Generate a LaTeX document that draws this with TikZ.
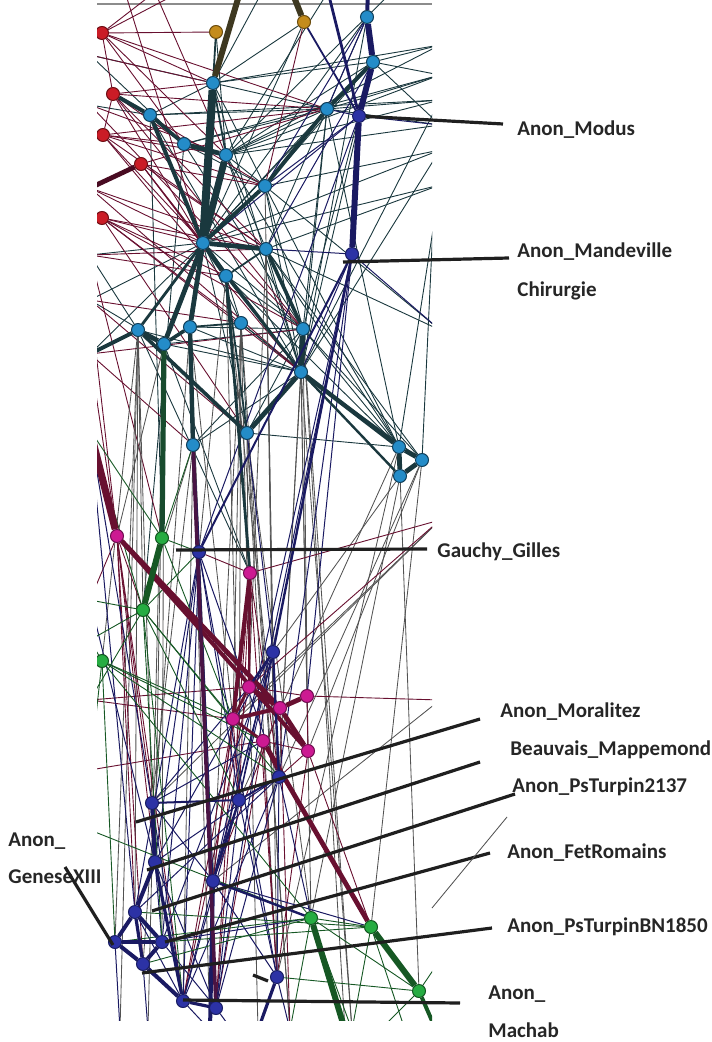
\documentclass[tikz,border=0pt]{standalone}
\usepackage{fontspec}
\setmainfont{Carlito}
\usetikzlibrary{positioning}
\usetikzlibrary{backgrounds}

\definecolor{nodered}{RGB}{202,28,38}
\definecolor{nodeorange}{RGB}{196,140,28}
\definecolor{nodecyan}{RGB}{36,140,200}
\definecolor{nodeblue}{RGB}{44,50,165}
\definecolor{nodemag}{RGB}{204,26,146}
\definecolor{nodegreen}{RGB}{38,172,66}
\definecolor{edgeteal}{RGB}{26,56,62}
\definecolor{edgenavy}{RGB}{26,26,98}
\definecolor{edgemaroon}{RGB}{104,16,48}
\definecolor{edgegreen}{RGB}{22,88,36}
\definecolor{edgeolive}{RGB}{62,56,32}

\begin{document}
\begin{tikzpicture}[x=0.5pt, y=-0.5pt,
                rednode/.style={circle, draw=nodered!55!black, fill=nodered, minimum size=6.5pt, inner sep=0pt, line width=0.5pt},
                orangenode/.style={circle, draw=nodeorange!55!black, fill=nodeorange, minimum size=6.5pt, inner sep=0pt, line width=0.5pt},
                cyannode/.style={circle, draw=nodecyan!45!black, fill=nodecyan, minimum size=6.5pt, inner sep=0pt, line width=0.5pt},
                bluenode/.style={circle, draw=nodeblue!60!black, fill=nodeblue, minimum size=6.5pt, inner sep=0pt, line width=0.5pt},
                magnode/.style={circle, draw=nodemag!55!black, fill=nodemag, minimum size=6.5pt, inner sep=0pt, line width=0.5pt},
                greennode/.style={circle, draw=nodegreen!50!black, fill=nodegreen, minimum size=6.5pt, inner sep=0pt, line width=0.5pt},
                tealline/.style={draw=edgeteal, line width=0.45pt},
                maroonline/.style={draw=edgemaroon, line width=0.45pt},
                navyline/.style={draw=edgenavy, line width=0.5pt},
                greenline/.style={draw=edgegreen, line width=0.45pt},
                grayline/.style={draw=black!68, line width=0.42pt},
                leader/.style={draw=black!88, line width=1.6pt},
                labeltext/.style={font=\bfseries\fontsize{10.5}{12}\selectfont, text=black!85, anchor=west, inner sep=0pt},
            ]
            \useasboundingbox (0,0) rectangle (711,1042);

            % Nodes
            \begin{scope}
            \clip (97,0) rectangle (432,1020);
            \node[rednode]    (r1) at (102,33)  {};
            \node[rednode]    (r2) at (113,94)  {};
            \node[rednode]    (r3) at (103,135) {};
            \node[rednode]    (r4) at (141,164) {};
            \node[rednode]    (r5) at (102,218) {};

            \node[orangenode] (o1) at (216,32)  {};
            \node[orangenode] (o2) at (304,22)  {};

            \node[cyannode]   (c1)  at (367,17)  {};
            \node[cyannode]   (c2)  at (373,62)  {};
            \node[cyannode]   (c3)  at (213,83)  {};
            \node[cyannode]   (c4)  at (150,115) {};
            \node[cyannode]   (c5)  at (327,109) {};
            \node[cyannode]   (c6)  at (184,144) {};
            \node[cyannode]   (c7)  at (226,155) {};
            \node[cyannode]   (c8)  at (265,186) {};
            \node[cyannode]   (c9)  at (203,243) {};
            \node[cyannode]   (c10) at (266,249) {};
            \node[cyannode]   (c11) at (226,276) {};
            \node[cyannode]   (c12) at (138,330) {};
            \node[cyannode]   (c13) at (164,344) {};
            \node[cyannode]   (c14) at (190,327) {};
            \node[cyannode]   (c15) at (241,323) {};
            \node[cyannode]   (c16) at (303,329) {};
            \node[cyannode]   (c17) at (301,372) {};
            \node[cyannode]   (c18) at (247,433) {};
            \node[cyannode]   (c19) at (193,445) {};
            \node[cyannode]   (c20) at (399,447) {};
            \node[cyannode]   (c21) at (422,460) {};
            \node[cyannode]   (c22) at (400,476) {};

            \node[bluenode]   (modus)      at (359,116) {};
            \node[bluenode]   (mandeville) at (352,254) {};
            \node[bluenode]   (gauchy)     at (199,552) {};
            \node[bluenode]   (b2)  at (273,652)  {};
            \node[bluenode]   (b3)  at (279,777)  {};
            \node[bluenode]   (b4)  at (239,800)  {};
            \node[bluenode]   (b5)  at (152,803)  {};
            \node[bluenode]   (b6)  at (155,862)  {};
            \node[bluenode]   (b7)  at (213,881)  {};
            \node[bluenode]   (b8)  at (135,912)  {};
            \node[bluenode]   (b9)  at (115,942)  {};
            \node[bluenode]   (b10) at (162,942)  {};
            \node[bluenode]   (b11) at (143,964)  {};
            \node[bluenode]   (b12) at (277,977)  {};
            \node[bluenode]   (b13) at (183,1001) {};
            \node[bluenode]   (b14) at (216,1008) {};

            \node[magnode]    (m1) at (117,536) {};
            \node[magnode]    (m2) at (250,573) {};
            \node[magnode]    (m3) at (249,687) {};
            \node[magnode]    (m4) at (307,696) {};
            \node[magnode]    (m5) at (280,708) {};
            \node[magnode]    (m6) at (233,719) {};
            \node[magnode]    (m7) at (263,741) {};
            \node[magnode]    (m8) at (308,751) {};

            \node[greennode]  (g1) at (162,538) {};
            \node[greennode]  (g2) at (143,610) {};
            \node[greennode]  (g3) at (102,661) {};
            \node[greennode]  (g4) at (311,918) {};
            \node[greennode]  (g5) at (371,927) {};
            \node[greennode]  (g6) at (419,991) {};
            \end{scope}

            % Edge ends outside the panel
            \coordinate (tA) at (125,-8);  \coordinate (tB) at (155,-8);  \coordinate (tC) at (180,-8);
            \coordinate (tD) at (240,-8);  \coordinate (tE) at (262,-8);  \coordinate (tF) at (292,-8);
            \coordinate (tG) at (328,-8);  \coordinate (tH) at (368,-8);  \coordinate (tI) at (392,-8);
            \coordinate (tJ) at (418,-8);
            \coordinate (lA) at (90,55);   \coordinate (lB) at (90,105);  \coordinate (lC) at (90,188);
            \coordinate (lD) at (90,255);  \coordinate (lE) at (90,300);  \coordinate (lF) at (90,354);
            \coordinate (lG) at (90,430);  \coordinate (lH) at (90,600);  \coordinate (lI) at (90,640);
            \coordinate (lJ) at (90,700);  \coordinate (lK) at (90,770);  \coordinate (lL) at (90,830);
            \coordinate (rA) at (440,45);  \coordinate (rB) at (440,75);  \coordinate (rC) at (440,100);
            \coordinate (rD) at (440,125); \coordinate (rE) at (440,150); \coordinate (rF) at (440,185);
            \coordinate (rG) at (440,330); \coordinate (rH) at (440,520); \coordinate (rI) at (440,700);
            \coordinate (rJ) at (440,880); \coordinate (rK) at (440,960);
            \coordinate (bA) at (120,1030); \coordinate (bB) at (148,1030); \coordinate (bC) at (210,1030);
            \coordinate (bD) at (232,1030); \coordinate (bE) at (258,1030); \coordinate (bF) at (290,1030);
            \coordinate (bG) at (345,1030); \coordinate (bH) at (352,1030); \coordinate (bI) at (380,1030);
            \coordinate (bJ) at (405,1030); \coordinate (bK) at (436,1030);

            %Lines
            \begin{pgfonlayer}{background}
            \begin{scope}
            \clip (97,0) rectangle (432,1020);
            \draw[black!45, line width=0.6pt] (97,4) -- (432,4);

            \foreach \a/\b in {c7/rA, c7/rB, c7/rC, c7/c5, c7/c2, c7/rD, c7/tG, c7/tI, c7/c8, c7/c10, c7/c17,
                c6/c5, c6/rB, c6/c8, c3/c5, c3/c2, c3/rA, c3/tE, c3/c8, c4/c5, c4/rC, c4/c3,
                c9/c5, c9/rE, c9/rF, c9/c2, c9/c16, c9/c18, c9/c15, c9/c1, c10/c17, c10/rF,
                c11/c17, c11/c16, c11/c20, c11/c15, c13/c17, c13/c16, c12/c17, c14/c17, c14/c16,
                c15/c17, c15/c20, c16/c20, c16/c21, c17/c21, c8/c17, c8/c16, c8/rE, c5/rB, c5/rC,
                c2/rA, c2/rB, c5/c1, c10/c20, c18/c20, c19/c17, c13/lE, c12/lD, c9/lE, c9/lD, c9/lF, c6/lA,
                c4/lB, c3/lA, c15/c18, c16/c18, c16/c19, c5/c10, c2/c8, c2/rD, c5/rD, o1/c7, o2/c3, o2/c9,
                c5/c17, c5/c16, c2/c16, c2/c17, c1/c17, rC/c17, rE/c17, rF/c20, rB/c21, c5/c20, c8/c20,
                c7/c20, c10/c21, c10/rG, c8/rG, c3/c17, c6/c16, c4/c17, c12/m2, c13/m2, c4/g1, c6/g2}
                \draw[tealline] (\a) -- (\b);

            \foreach \a/\b in {r1/c3, r1/tC, r1/c7, r1/c5, r1/tB, r2/c5, r2/c3, r2/c9, r2/c8, r2/c10,
                r3/c9, r3/c5, r3/c7, r3/c10, r3/c8, r4/c9, r4/c8, r4/c10, r4/c11, r4/c5, r5/c9, r5/c11,
                r5/c10, r5/c17, r5/c15, r5/c16, lA/c3, lB/c7, lC/c9, lD/c11, lE/c15, lF/c16, r3/c6, r2/c6,
                r5/c18, r4/c17, r3/c17, r2/c16, lD/c10, lC/c10, tA/c9, tB/c7, r1/c6, r1/r2, r2/r3, o1/r1, o2/c8,
                lC/c17, lB/c16, lE/c18, lF/c19, lE/m1, lF/m1, lD/g1}
                \draw[maroonline] (\a) -- (\b);

            \foreach \a/\b in {c12/bA, c13/bB, c19/bC, c15/bE, c16/bG, c17/bH, c18/bF,
                c20/g6, c21/g5, c20/b12, c22/g4, c16/b3, c15/b4, c12/b5, c13/b6, c18/m3,
                c17/m4, c11/b4, c14/m6, c19/b5, c10/m3, c16/m8, c17/b3, c18/g4, c15/b7,
                c13/m1, c12/g2, c12/g3, c19/g2, c14/b7, c15/m6, c10/b12, c11/b3,
                c12/b8, c12/b9, c13/b10, c19/b13, c14/b11, c18/b12, c15/bF, c16/bH, c17/g4,
                c20/b4, c21/b3, c22/b2, c21/m8, rH/b5, rH/m6, rI/b7,
                c14/gauchy, c11/gauchy, c10/b2, c8/b2}
                \draw[grayline] (\a) -- (\b);

            \foreach \a/\b in {m1/b5, m1/b8, m1/b6, m2/b3, m2/b4, m2/b7, m2/m3, m3/m4, m4/m8, m3/b2,
                m6/b4, m6/b7, m7/b3, m8/b3, m4/rI, m3/rH, m2/rH, m5/b7, m6/b13, m7/b12, m8/g5, m2/gauchy,
                m1/g2, m1/lH, m6/lJ, m7/lK, m3/lJ, m8/b12, m5/bF, m4/m5, m7/m8, m6/m3,
                m1/b11, m1/b13, m2/b12, m2/b14, m3/b13, m6/b14, m7/b14}
                \draw[maroonline] (\a) -- (\b);

            \foreach \a/\b in {gauchy/b3, gauchy/b4, gauchy/b7, gauchy/b12, gauchy/b6, b2/b7, b2/b4,
                b2/b6, b2/b10, mandeville/b4, mandeville/b7, modus/gauchy, b5/m3, b5/m7, b4/b13, b3/b12,
                b3/b14, b6/b14, b7/b12, b7/g5, b10/g4, b5/b7, b6/b10, b8/b13, b9/b13, b10/b14, b4/b12,
                b3/g4, b12/bF, b13/bC, b14/bD, b11/bB, b9/bA, b6/b3, b8/b3, mandeville/c17, mandeville/c10,
                mandeville/rG, modus/c5, modus/rD, modus/c9, modus/c8, c1/c5, mandeville/m4,
                mandeville/b3, c18/b2, c19/gauchy, c2/c10, c1/c8, b2/b14, b2/b13, gauchy/b13,
                gauchy/b10, gauchy/b8, b5/b13, b4/b14, b3/b13, lG/b5, lG/b8, lH/b6}
                \draw[navyline] (\a) -- (\b);

            \foreach \a/\b in {g2/lH, g2/lI, g2/lJ, g3/lI, g3/lK, g2/m6, g3/m6, g2/b4, g3/b3, g4/g6,
                g4/b11, g5/b10, g6/bI, g4/bF, g5/bH, g6/b12, g4/b7, g3/g4, g1/gauchy, g1/c19, g2/b3,
                g3/m7, g1/m6, g2/gauchy, g5/bJ, g6/rK, g4/bH, g5/g4, lL/g4, b8/g5, b9/g4, g1/lG, g2/lG,
                g2/b13, g3/b9, g2/b10}
                \draw[greenline] (\a) -- (\b);

            % medium and heavy links
            \draw[edgeteal, line width=0.9pt] (c3) -- (o1);
            \draw[edgeteal, line width=0.9pt] (c3) -- (c7);
            \draw[edgeteal, line width=0.9pt] (c10) -- (c11);
            \draw[edgeteal, line width=0.9pt] (c14) -- (c15);
            \draw[edgeteal, line width=0.9pt] (c11) -- (c18);
            \draw[edgeteal, line width=1.2pt] (c9) -- (c17);
            \draw[edgeteal, line width=1.2pt] (c11) -- (c17);
            \draw[edgeteal, line width=1.4pt] (c9) -- (c12);
            \draw[edgeteal, line width=1.2pt] (c17) -- (c22);
            \draw[edgeteal, line width=1.4pt] (c11) -- (m2);
            \draw[edgeteal, line width=1.8pt] (c4) -- (c6);
            \draw[edgeteal, line width=2pt]   (c4) -- (c9);
            \draw[edgeteal, line width=2pt]   (c8) -- (c9);
            \draw[edgeteal, line width=2pt]   (c5) -- (c8);
            \draw[edgeteal, line width=2pt]   (c5) -- (c2);
            \draw[edgeteal, line width=2.4pt] (c6) -- (c7);
            \draw[edgeteal, line width=3.4pt] (c7) -- (c9);
            \draw[edgeteal, line width=4pt]   (c3) -- (c9);
            \draw[edgeteal, line width=2.4pt] (c9) -- (c10);
            \draw[edgeteal, line width=2.4pt] (c9) -- (c11);
            \draw[edgeteal, line width=2.4pt] (c9) -- (c13);
            \draw[edgeteal, line width=2.4pt] (c9) -- (c14);
            \draw[edgeteal, line width=1.8pt] (c10) -- (c16);
            \draw[edgeteal, line width=2.4pt] (c12) -- (c13);
            \draw[edgeteal, line width=1.8pt] (c13) -- (c14);
            \draw[edgeteal, line width=2.2pt] (c14) -- (c19);
            \draw[edgeteal, line width=1.8pt] (c12) -- (c18);
            \draw[edgeteal, line width=2pt]   (c12) -- (lF);
            \draw[edgeteal, line width=3pt]   (c16) -- (c17);
            \draw[edgeteal, line width=2.4pt] (c17) -- (c18);
            \draw[edgeteal, line width=2.2pt] (c17) -- (c20);
            \draw[edgeteal, line width=2.4pt] (c20) -- (c21);
            \draw[edgeteal, line width=2.4pt] (c21) -- (c22);
            \draw[edgeteal, line width=2.4pt] (c20) -- (c22);
            \draw[edgeteal, line width=2pt]   (r2) -- (c4);
            \draw[edgemaroon!70!black, line width=2.4pt] (r4) -- (lC);
            \draw[edgeolive, line width=3pt]  (c3) -- (tD);
            \draw[edgeolive, line width=3pt]  (o2) -- (tF);
            \draw[edgegreen!60!edgeteal, line width=2.6pt] (c13) -- (g1);

            \draw[edgenavy, line width=2pt]   (c1) -- (tH);
            \draw[edgenavy, line width=3pt]   (c1) -- (c2);
            \draw[edgenavy, line width=3pt]   (c2) -- (modus);
            \draw[edgenavy, line width=1.4pt] (tG) -- (modus);
            \draw[edgenavy, line width=0.9pt] (o2) -- (modus);
            \draw[edgenavy, line width=3pt]   (modus) -- (mandeville);
            \draw[edgenavy, line width=1.2pt] (mandeville) -- (b2);
            \draw[edgenavy, line width=1pt]   (gauchy) -- (mandeville);
            \draw[edgenavy, line width=1.2pt] (c19) -- (gauchy);

            \draw[edgemaroon, line width=3.6pt] (lG) -- (m1);
            \draw[edgemaroon, line width=2.4pt] (m1) -- (m5);
            \draw[edgemaroon, line width=2pt]   (m1) -- (m8);
            \draw[edgemaroon, line width=2pt]   (m2) -- (m6);
            \draw[edgemaroon, line width=1.2pt] (m2) -- (m3);
            \draw[edgemaroon, line width=2.4pt] (m3) -- (m5);
            \draw[edgemaroon, line width=2.4pt] (m5) -- (m4);
            \draw[edgemaroon, line width=2pt]   (m6) -- (m5);
            \draw[edgemaroon, line width=2.4pt] (m5) -- (m8);
            \draw[edgemaroon, line width=1.4pt] (m3) -- (m6);
            \draw[edgemaroon, line width=1.4pt] (m6) -- (m7);
            \draw[edgemaroon, line width=2.4pt] (m7) -- (g5);

            \draw[edgegreen, line width=3pt]  (g1) -- (g2);
            \draw[edgegreen, line width=3pt]  (g5) -- (g6);
            \draw[edgegreen, line width=3pt]  (g4) -- (bG);
            \draw[edgegreen, line width=2pt]  (g6) -- (bK);

            \draw[edgenavy, line width=1.2pt] (b2) -- (m3);
            \draw[edgenavy, line width=1.2pt] (b2) -- (b3);
            \draw[edgenavy, line width=1pt]   (b3) -- (b4);
            \draw[edgenavy, line width=1pt]   (b5) -- (b4);
            \draw[edgenavy, line width=1.2pt] (b4) -- (b7);
            \draw[edgenavy, line width=1.2pt] (b7) -- (g4);
            \draw[edgenavy, line width=2pt]   (b7) -- (bC);
            \draw[edgenavy, line width=1.6pt] (b12) -- (bE);
            \draw[edgenavy, line width=2pt]   (b5) -- (b6);
            \draw[edgenavy, line width=2pt]   (b6) -- (b8);
            \draw[edgenavy, line width=1.6pt] (b6) -- (b13);
            \draw[edgenavy, line width=2pt]   (b8) -- (b9);
            \draw[edgenavy, line width=2pt]   (b8) -- (b10);
            \draw[edgenavy, line width=1.6pt] (b9) -- (b10);
            \draw[edgenavy, line width=2pt]   (b9) -- (b11);
            \draw[edgenavy, line width=2pt]   (b10) -- (b11);
            \draw[edgenavy, line width=1.6pt] (b8) -- (b11);
            \draw[edgenavy, line width=2pt]   (b11) -- (b13);
            \draw[edgenavy, line width=1.6pt] (b13) -- (b14);
            \draw[edgemaroon!60!edgenavy, line width=1.8pt] (c19) -- (b14);
            \end{scope}
            \end{pgfonlayer}

            % Labels
            \node[labeltext] (lmodus)  at (517,130) {Anon\_Modus};
            \node[labeltext] (lmand)   at (517,252) {Anon\_Mandeville};
            \node[labeltext] (lchir)   [below=10pt of lmand.south west, anchor=north west] {Chirurgie};
            \node[labeltext] (lgauchy) at (437,552) {Gauchy\_Gilles};
            \node[labeltext] (lmoral)  at (500,712) {Anon\_Moralitez};
            \node[labeltext] (lbeauv)  at (510,750) {Beauvais\_Mappemond};
            \node[labeltext] (lturpa)  at (512,787) {Anon\_PsTurpin2137};
            \node[labeltext] (lfet)    at (507,853) {Anon\_FetRomains};
            \node[labeltext] (lturpb)  at (507,927) {Anon\_PsTurpinBN1850};
            \node[labeltext] (lmach)   at (488,994) {Anon\_};
            \node[labeltext] (lmach2)  [below=10pt of lmach.south west, anchor=north west] {Machab};
            \node[labeltext] (lgen)    at (8,841)   {Anon\_};
            \node[labeltext] (lgen2)   [below=10pt of lgen.south west, anchor=north west] {GeneseXIII};

            % Leader ends
            \coordinate (modusend)  at (503,124);
            \coordinate (mandfoot)  at (343,262);  \coordinate (mandend)   at (509,258);
            \coordinate (gauchyfoot) at (176,550); \coordinate (gauchyend) at (427,549);
            \coordinate (moralfoot) at (136,822);  \coordinate (moralend)  at (480,719);
            \coordinate (beauvfoot) at (147,870);  \coordinate (beauvend)  at (480,762);
            \coordinate (turpafoot) at (152,911);  \coordinate (turpaend)  at (515,794);
            \coordinate (fetfoot)   at (165,942);  \coordinate (fetend)    at (490,853);
            \coordinate (turpbfoot) at (142,973);  \coordinate (turpbend)  at (492,928);
            \coordinate (machfoot)  at (183,1000); \coordinate (machend)   at (460,1003);
            \coordinate (genfoot)   at (65,867);   \coordinate (genend)    at (113,945);
            \coordinate (stubfoot)  at (253,975);  \coordinate (stubend)   at (268,981);
            \coordinate (strayA)    at (507,817);  \coordinate (strayB)    at (432,908);

            \draw[leader] (modus) -- (modusend);
            \draw[leader] (mandfoot) -- (mandend);
            \draw[leader] (gauchyfoot) -- (gauchyend);
            \draw[leader] (moralfoot) -- (moralend);
            \draw[leader] (beauvfoot) -- (beauvend);
            \draw[leader] (turpafoot) -- (turpaend);
            \draw[leader] (fetfoot) -- (fetend);
            \draw[leader] (turpbfoot) -- (turpbend);
            \draw[leader] (machfoot) -- (machend);
            \draw[leader] (genfoot) -- (genend);
            \draw[leader] (stubfoot) -- (stubend);
            \draw[grayline] (strayA) -- (strayB);
        \end{tikzpicture}
\end{document}
